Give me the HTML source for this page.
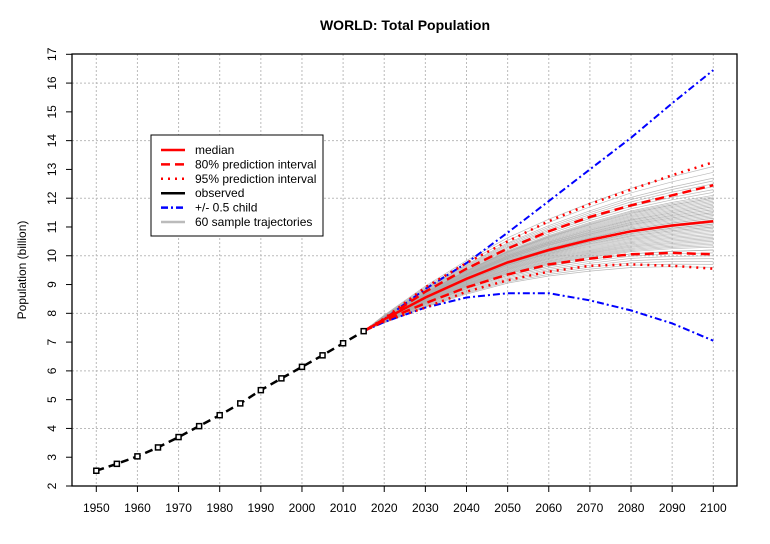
<!DOCTYPE html>
<html><head><meta charset="utf-8"><style>
body{margin:0;background:#fff}
svg text{font-family:"Liberation Sans",sans-serif;font-size:12px}
</style></head><body>
<svg width="770" height="539" viewBox="0 0 770 539">
<text x="405" y="30" text-anchor="middle" font-weight="bold" style="font-size:14px">WORLD: Total Population</text>
<text transform="translate(26,270) rotate(-90)" text-anchor="middle">Population (billion)</text>
<g id="grid"></g><g id="series"></g><g id="axes"></g>
<rect x="72" y="54" width="665" height="432" fill="none" stroke="#000" stroke-width="1.3"/>
<g>
<rect x="151" y="135" width="172" height="101" fill="#fff" stroke="#000"/>
<g id="legend"></g>
</g>
</svg>
<script>
const years=[1950,1955,1960,1965,1970,1975,1980,1985,1990,1995,2000,2005,2010,2015];
const observed=[2.53,2.77,3.03,3.34,3.70,4.08,4.46,4.87,5.33,5.74,6.14,6.54,6.96,7.38];
const projYears=[2015,2020,2030,2040,2050,2060,2070,2080,2090,2100];
const median=[7.38,7.79,8.55,9.2,9.77,10.2,10.55,10.85,11.05,11.2];
const pi80up=[7.38,7.8,8.75,9.55,10.25,10.85,11.35,11.75,12.1,12.45];
const pi80lo=[7.38,7.75,8.35,8.9,9.35,9.7,9.9,10.05,10.1,10.05];
const pi95up=[7.38,7.82,8.9,9.75,10.5,11.2,11.8,12.3,12.8,13.25];
const pi95lo=[7.38,7.72,8.2,8.75,9.15,9.45,9.65,9.7,9.65,9.55];
const highVar=[7.38,7.8,8.85,9.75,10.8,11.9,13.0,14.1,15.3,16.45];
const lowVar=[7.38,7.7,8.2,8.55,8.7,8.7,8.45,8.1,7.65,7.05];
const trajEnds=[9.6,9.8,9.9,10.0,10.1,10.2,10.3,10.4,10.45,10.5,10.6,10.65,10.7,10.8,10.85,10.9,10.95,11.0,11.05,11.1,11.15,11.2,11.25,11.3,11.35,11.4,11.45,11.5,11.55,11.6,11.65,11.7,11.75,11.8,11.85,11.9,11.95,12.0,12.05,12.1,12.2,12.3,12.4,12.5,12.6,12.7,12.9,13.1,10.55,10.75,11.0,11.3,11.5,11.7,12.0,9.7,10.2,10.35,11.1,11.6];
const xTicks=[1950,1960,1970,1980,1990,2000,2010,2020,2030,2040,2050,2060,2070,2080,2090,2100];
const yTicks=[2,3,4,5,6,7,8,9,10,11,12,13,14,15,16,17];
const NS='http://www.w3.org/2000/svg';
const X=y=>96.3+(y-1950)*(713.3-96.3)/150;
const Y=v=>486-(v-2)*(486-54.3)/15;
function mk(tag,attrs,parent){const e=document.createElementNS(NS,tag);for(const k in attrs)e.setAttribute(k,attrs[k]);parent.appendChild(e);return e;}
const grid=document.getElementById('grid'),axes=document.getElementById('axes'),ser=document.getElementById('series');
xTicks.forEach(t=>{
 const l=mk('line',{x1:X(t),x2:X(t),y1:54,y2:486,stroke:'#bbb','stroke-dasharray':'2,2'},grid);
 
 mk('line',{x1:X(t),x2:X(t),y1:486,y2:492,stroke:'#000'},axes);
 const tx=mk('text',{x:X(t),y:512,'text-anchor':'middle'},axes);tx.textContent=t;
 
});
yTicks.forEach(t=>{
 if(t%2===0){const l=mk('line',{x1:72,x2:737,y1:Y(t),y2:Y(t),stroke:'#bbb','stroke-dasharray':'2,2'},grid);
 }
 mk('line',{x1:66,x2:72,y1:Y(t),y2:Y(t),stroke:'#000'},axes);
 const tx=mk('text',{transform:`translate(56,${Y(t)}) rotate(-90)`,'text-anchor':'middle'},axes);tx.textContent=t;
 
});
const pts=(xs,vs)=>xs.map((x,i)=>X(x).toFixed(1)+','+Y(vs[i]).toFixed(1)).join(' ');
const spanYears=projYears[projYears.length-1]-projYears[0];
trajEnds.forEach(e=>{
 const d=e-median[median.length-1];
 const vals=median.map((m,i)=>m+d*Math.pow((projYears[i]-2015)/spanYears,0.9));
 const p=mk('polyline',{points:pts(projYears,vals),fill:'none',stroke:'#aaa','stroke-width':0.7,opacity:0.8},ser);
 
});
function line(vs,xs,color,w,dash,name){const p=mk('polyline',{points:pts(xs,vs),fill:'none',stroke:color,'stroke-width':w,'stroke-dasharray':dash},ser);
 }
line(highVar,projYears,'#00f',2,'7,3,2,3','high-variant-line');
line(lowVar,projYears,'#00f',2,'7,3,2,3','low-variant-line');
line(pi95up,projYears,'#f00',2.5,'2,5','pi95-upper');
line(pi95lo,projYears,'#f00',2.5,'2,5','pi95-lower');
line(pi80up,projYears,'#f00',2.5,'9,5','pi80-upper');
line(pi80lo,projYears,'#f00',2.5,'9,5','pi80-lower');
line(median,projYears,'#f00',2.5,'none','median-line');
line(observed,years,'#000',2.5,'8,5','observed-line');
years.forEach((y,i)=>{const r=mk('rect',{x:X(y)-2.5,y:Y(observed[i])-2.5,width:5,height:5,fill:'#fff',stroke:'#000','stroke-width':1.5},ser);
 });
const legLabels=['median','80% prediction interval','95% prediction interval','observed','+/- 0.5 child','60 sample trajectories'];
const legColors=['#f00','#f00','#f00','#000','#00f','#bbb'];
const legDash=['none','9,5','2,5','none','7,3,2,3','none'];
const lg=document.getElementById('legend');
legLabels.forEach((s,i)=>{const yy=150+i*14.4;
 mk('line',{x1:161,x2:185,y1:yy,y2:yy,stroke:legColors[i],'stroke-width':2.5,'stroke-dasharray':legDash[i]},lg);
 const t=mk('text',{x:195,y:yy+4},lg);t.textContent=s;
 });
</script>
</body></html>
